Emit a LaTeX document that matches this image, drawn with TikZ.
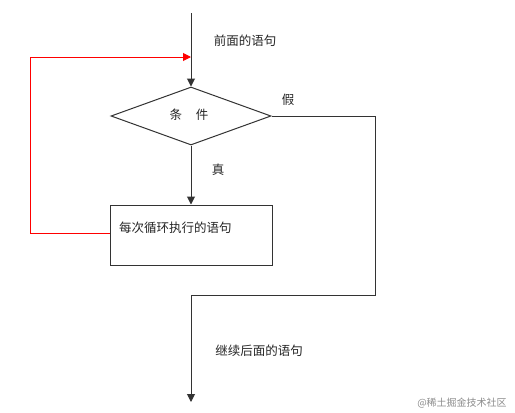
\documentclass[tikz,border=0pt]{standalone}
\usepackage{fontspec}
\setmainfont{Noto Sans CJK SC}
\usetikzlibrary{shapes.geometric,arrows.meta}
\begin{document}
\begin{tikzpicture}[x=1pt,y=-1pt,
  line/.style={draw=black!80,line width=1pt},
  arr/.style={line,-{Triangle[length=8pt,width=8pt]}},
  redarr/.style={draw=red,line width=1pt,-{Triangle[length=8pt,width=8pt,fill=red]}},
  lbl/.style={font=\fontsize{12.5}{14}\selectfont,text=black!85,inner sep=0pt}]
\useasboundingbox (0,0) rectangle (515,413);
\fill[white] (0,0) rectangle (515,413);
\coordinate (start) at (191,13);
\coordinate (join) at (191,57);
\node[diamond,line,aspect=2.75,minimum width=160pt,minimum height=58pt,inner sep=0pt] (cond) at (191,116) {};
\node[lbl] (condtxt) at (189,115) {条\hspace{1.1em}件};
\node[line,rectangle,minimum width=162pt,minimum height=60pt,inner sep=0pt] (body) at (191,235) {};
\node[lbl,anchor=west] (bodytxt) at (119,228) {每次循环执行的语句};
\coordinate (r1) at (375,116);
\coordinate (r2) at (375,295);
\coordinate (r3) at (191,295);
\coordinate (endp) at (191,402);
\coordinate (l1) at (30,57);
\coordinate (l2) at (30,233);
\node[lbl] (pre) at (245,41) {前面的语句};
\node[lbl] (f) at (288,100) {假};
\node[lbl] (t) at (218,170) {真};
\node[lbl] (post) at (259,351) {继续后面的语句};
\node[lbl,text=black!45,font=\fontsize{10}{12}\selectfont] (wm) at (462,403) {@稀土掘金技术社区};
\draw[arr] (start) -- (cond.north);
\draw[arr] (cond.south) -- (body.north);
\draw[arr] (cond.east) -- (r1) -- (r2) -- (r3) -- (endp);
\draw[redarr] (body.west |- l2) -- (l2) -- (l1) -- (join);
\end{tikzpicture}
\end{document}
